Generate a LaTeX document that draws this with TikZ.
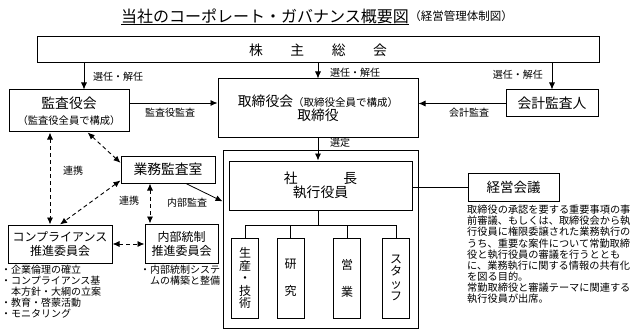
\documentclass[tikz,border=0pt]{standalone}
\usepackage{fontspec}
\newfontfamily\jpfont{Noto Sans CJK JP}
\usetikzlibrary{arrows.meta,positioning}
\newcommand{\jpsize}[2]{\fontsize{#1}{#2}\selectfont}

\begin{document}
\begin{tikzpicture}[x=1pt,y=-1pt,font=\jpfont\jpsize{10}{11},
      box/.style={draw,line width=1pt,inner sep=0pt,align=center},
      big/.style={font=\jpfont\jpsize{13.8}{14}},
      mid/.style={font=\jpfont\jpsize{12}{14}},
      lbl/.style={inner sep=0pt},
      note/.style={inner sep=0pt,align=left,anchor=north west},
      arr/.style={-{Latex[length=7pt,width=6pt]},line width=0.8pt},
      link/.style={{Latex[length=7pt,width=6pt]}-{Latex[length=7pt,width=6pt]},
                   line width=0.9pt,dash pattern=on 4pt off 3pt}]

    \useasboundingbox (0,0) rectangle (634,334);

    % TITLE
    \node[lbl,font=\jpfont\jpsize{16}{18},anchor=west] (title) at (121,16.5) {当社のコーポレート・ガバナンス概要図};
    \node[lbl,font=\jpfont\jpsize{11.5}{13},right=0pt of title] (subtitle) {（経営管理体制図）};
    \draw[line width=0.8pt] (title.south west) -- (title.south east);

    % BOXES
    \node[box,big,minimum width=562pt,minimum height=26pt] (soukai) at (318,50) {株\hspace{2em}主\hspace{2em}総\hspace{2em}会};
    \node[box,font=\jpfont\jpsize{10.3}{16},minimum width=120pt,minimum height=42pt] (kansa) at (69,111)
         {{\jpsize{13.8}{16}監査役会}\\（監査役全員で構成）};
    \node[box,big,minimum width=200pt,minimum height=58pt] (torishimari) at (318,108)
         {取締役会{\jpsize{10.5}{12}（取締役全員で構成）}\\取締役};
    \node[box,big,minimum width=92pt,minimum height=27pt] (kaikei) at (552,103.5) {会計監査人};
    \node[box,minimum width=195pt,minimum height=178pt] (exec) at (320.5,239) {};
    \node[box,big,minimum width=183pt,minimum height=49pt] (shacho) at (320.5,185.5) {社\hspace{3.3em}長\\執行役員};
    \node[box,font=\jpfont\jpsize{13.5}{14},minimum width=91pt,minimum height=28pt] (keiei) at (513.5,187) {経営会議};
    \node[box,big,minimum width=94pt,minimum height=27pt] (gyomu) at (168,169.5) {業務監査室};
    \node[box,mid,minimum width=73pt,minimum height=39pt] (naibu) at (181.5,243.5) {内部統制\\推進委員会};
    \node[box,mid,minimum width=104pt,minimum height=38pt] (comp) at (60,244) {コンプライアンス\\推進委員会};

    % DIVISIONS under the president
    \foreach \n/\x/\t in {d1/245/{生\\産\\・\\技\\術},d2/290.5/{研\\[14.5pt]究},
                          d3/347/{営\\[14.5pt]業},d4/396/{ス\\タ\\ッ\\フ}}
      \node[box,font=\jpfont\jpsize{12}{12.5},minimum width=27pt,minimum height=80pt] (\n) at (\x,278) {\t};

    \coordinate (fork) at (318,225);
    \draw[line width=0.8pt] (shacho.south -| fork) -- (fork);
    \draw[line width=0.8pt] (d1.north |- fork) -- (d4.north |- fork);
    \foreach \n in {d1,d2,d3,d4}
      \draw[line width=0.8pt] (\n.north |- fork) -- (\n.north);

    % ELECTION and AUDIT arrows
    \draw[arr] ([xshift=15pt]kansa.north |- soukai.south) -- ([xshift=15pt]kansa.north);
    \draw[arr] (torishimari.north |- soukai.south) -- (torishimari.north);
    \draw[arr] (kaikei.north |- soukai.south) -- (kaikei.north);
    \node[lbl,anchor=west] (sel1) at (93,77) {選任・解任};
    \node[lbl,anchor=west] (sel2) at (330,73) {選任・解任};
    \node[lbl,anchor=east] (sel3) at (543,75) {選任・解任};

    \draw[arr] ([yshift=8pt]kansa.east) -- ([yshift=8pt]kansa.east -| torishimari.west);
    \node[lbl] (aud1) at (170,113) {監査役監査};
    \draw[arr] (kaikei.west) -- (kaikei.west -| torishimari.east);
    \node[lbl] (aud2) at (469,113) {会計監査};

    \draw[arr] (torishimari.south) -- (torishimari.south |- shacho.north);
    \node[lbl,anchor=west] (appoint) at (330,143) {選定};

    \draw[line width=0.8pt] (shacho.east |- keiei.west) -- (keiei.west);
    \draw[arr] (gyomu.-38) -- (exec.159);
    \node[lbl] (internal) at (187,203) {内部監査};

    % COOPERATION (dashed, both ways)
    \draw[link] ([xshift=-19pt]kansa.south) -- ([xshift=-19pt]kansa.south |- comp.north);
    \draw[link] (kansa.-49) -- (gyomu.172);
    \draw[link] (gyomu.193) -- (comp.north);
    \draw[link] ([xshift=-18pt]gyomu.south) -- ([xshift=-18pt]gyomu.south |- naibu.north);
    \draw[link] (comp.east) -- (comp.east -| naibu.west);
    \node[lbl] (coop1) at (73,171) {連携};
    \node[lbl] (coop2) at (129,201) {連携};

    % NOTES
    \node[note] (compnote) at (1,265) {・企業倫理の確立\\・コンプライアンス基\\\hspace*{1em}本方針・大綱の立案\\・教育・啓蒙活動\\・モニタリング};
    \node[note] (naibunote) at (140,265) {・内部統制システ\\\hspace*{1em}ムの構築と整備};
    \node[note,font=\jpfont\jpsize{10.2}{11.1}] (keieinote) at (467,205)
         {取締役の承認を要する重要事項の事\\前審議、もしくは、取締役会から執\\行役員に権限委譲された業務執行の\\うち、重要な案件について常勤取締\\役と執行役員の審議を行うととも\\に、業務執行に関する情報の共有化\\を図る目的。\\常勤取締役と審議テーマに関連する\\執行役員が出席。};
  \end{tikzpicture}
\end{document}
